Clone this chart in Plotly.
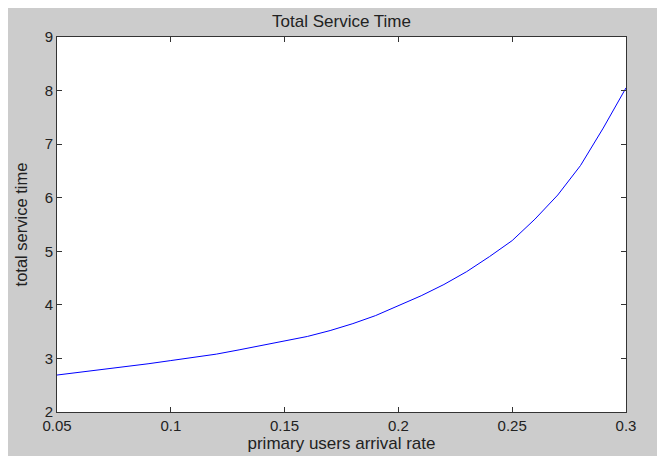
import plotly.graph_objects as go

arrival_rate = [0.05, 0.06, 0.07, 0.08, 0.09, 0.10, 0.11, 0.12, 0.13, 0.14, 0.15, 0.16, 0.17,
                0.18, 0.19, 0.20, 0.21, 0.22, 0.23, 0.24, 0.25, 0.26, 0.27, 0.28, 0.29, 0.30]
service_time = [2.69, 2.74, 2.79, 2.84, 2.90, 2.96, 3.02, 3.08, 3.16, 3.24, 3.32, 3.41, 3.52,
                3.65, 3.80, 3.98, 4.17, 4.38, 4.62, 4.90, 5.20, 5.60, 6.05, 6.60, 7.30, 8.05]
x_ticks = [0.05, 0.1, 0.15, 0.2, 0.25, 0.3]
x_tick_text = ["0.05", "0.1", "0.15", "0.2", "0.25", "0.3"]
y_ticks = [2, 3, 4, 5, 6, 7, 8, 9]

# the page body adds an 8px white margin at left/top, so the figure is 8px smaller
W, H = 657, 448
L, R, T, B = 49, 39, 29, 44
pw, ph = W - L - R, H - T - B

FONT = "Liberation Sans, Arial, sans-serif"
GRAY = "#cccccc"

fig = go.Figure()
fig.add_trace(go.Scatter(x=arrival_rate, y=service_time, mode="lines",
                         line=dict(color="#0000ff", width=1), showlegend=False))

axis_common = dict(
    showgrid=False, zeroline=False, showline=True, linecolor="#333333", linewidth=1,
    mirror="ticks", ticks="inside", ticklen=5, tickcolor="#333333", tickwidth=1,
    tickfont=dict(family=FONT, size=15, color="#222222"), automargin=False,
)
fig.update_xaxes(range=[0.05, 0.3], tickvals=x_ticks, ticktext=x_tick_text,
                 title=dict(text="primary users arrival rate",
                            font=dict(family=FONT, size=17, color="#222222"), standoff=1),
                 **axis_common)
fig.update_yaxes(range=[2, 9], tickvals=y_ticks,
                 title=dict(text="total service time",
                            font=dict(family=FONT, size=16.5, color="#222222"), standoff=12),
                 **axis_common)

fig.update_layout(
    width=W, height=H,
    margin=dict(l=L, r=R, t=T, b=B, autoexpand=False),
    paper_bgcolor=GRAY, plot_bgcolor="white",
    title=dict(text="Total Service Time", x=(L + pw / 2) / W, xanchor="center",
               y=1 - 13.5 / H, yanchor="middle", yref="container",
               font=dict(family=FONT, size=17, color="#222222")),
)

fig.write_html("out.html")
